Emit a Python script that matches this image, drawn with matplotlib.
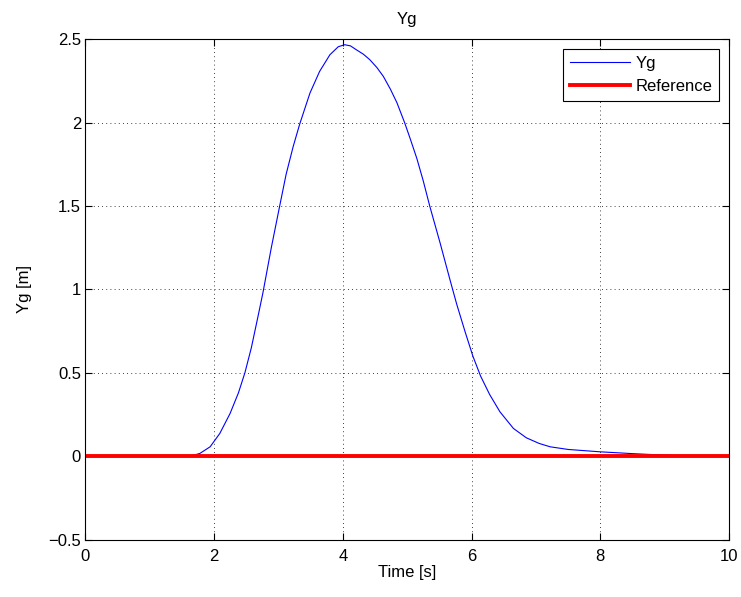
import numpy as np
import matplotlib
matplotlib.use('Agg')
import matplotlib.pyplot as plt

plt.rcParams['font.family'] = ['Liberation Sans', 'DejaVu Sans']

# Yg response
time_s = [0.0, 1.0, 1.63, 1.78, 1.94, 2.09, 2.25, 2.38, 2.48, 2.58, 2.69, 2.76,
          2.89, 3.02, 3.12, 3.23, 3.33, 3.49, 3.64, 3.80, 3.93, 4.03, 4.12,
          4.21, 4.32, 4.42, 4.53, 4.63, 4.74, 4.84, 4.96, 5.05, 5.15, 5.25,
          5.35, 5.51, 5.67, 5.77, 5.90, 6.02, 6.14, 6.28, 6.44, 6.65, 6.85,
          7.05, 7.22, 7.5, 7.99, 8.5, 8.77, 9.28, 10.0]
yg_m = [0.0, 0.0, 0.0, 0.016, 0.056, 0.136, 0.256, 0.38, 0.5, 0.65, 0.85, 0.98,
        1.25, 1.5, 1.69, 1.857, 1.99, 2.177, 2.307, 2.407, 2.455, 2.467, 2.46,
        2.437, 2.41, 2.377, 2.33, 2.277, 2.2, 2.12, 2.0, 1.9, 1.785, 1.65,
        1.5, 1.28, 1.05, 0.91, 0.745, 0.6, 0.48, 0.37, 0.266, 0.166, 0.11,
        0.076, 0.056, 0.04, 0.026, 0.015, 0.010, 0.002, 0.0]
ref_t = [0.0, 10.0]
ref_y = [0.0, 0.0]

fig = plt.figure(figsize=(7.41, 5.97), dpi=100)
ax = fig.add_axes([0.115, 0.0963, 0.869, 0.838])

ax.plot(time_s, yg_m, color='#0000ff', linewidth=0.8, label='Yg')
ax.plot(ref_t, ref_y, color='#ff0000', linewidth=2.8, label='Reference')

ax.set_xlim(0, 10)
ax.set_ylim(-0.5, 2.5)
ax.set_xticks([0, 2, 4, 6, 8, 10])
ax.set_yticks([-0.5, 0, 0.5, 1, 1.5, 2, 2.5])
ax.set_yticklabels(['\u22120.5', '0', '0.5', '1', '1.5', '2', '2.5'])
ax.tick_params(direction='in', top=True, right=True, labelsize=12, length=5)
ax.tick_params(axis='x', pad=6.5)
ax.tick_params(axis='y', pad=3)
ax.grid(True, linestyle=(0, (1, 4)), color='black', linewidth=0.6)
ax.set_xlabel('Time [s]', fontsize=12, labelpad=1)
ax.set_ylabel('Yg [m]', fontsize=12, labelpad=12)
ax.set_title('Yg', fontsize=12, pad=11)

leg = ax.legend(loc='upper right', fontsize=12, fancybox=False, framealpha=1,
                edgecolor='black', borderaxespad=0.6, handlelength=3.6,
                handletextpad=0.35, borderpad=0.4, labelspacing=0.5)
leg.get_frame().set_linewidth(0.8)

fig.savefig('out.png', dpi=100)
